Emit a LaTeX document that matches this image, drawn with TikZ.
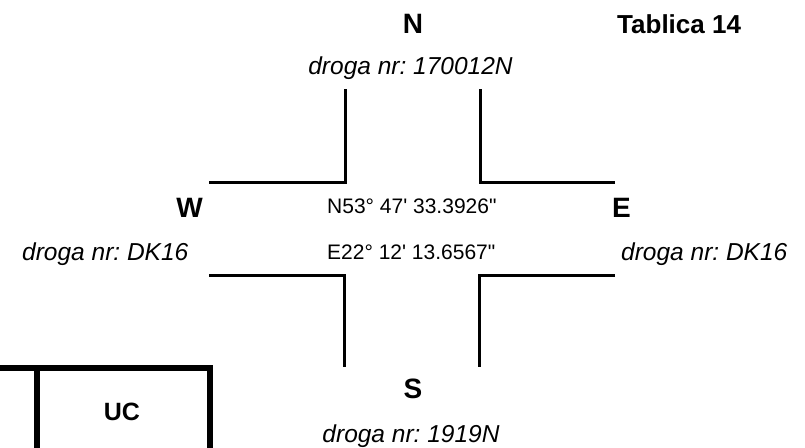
\documentclass[tikz,border=0pt]{standalone}
\usepackage{fontspec}
\setmainfont{Liberation Sans}
\frenchspacing
\newcommand{\sq}{\XeTeXglyph\XeTeXcharglyph"0027\relax}
\newcommand{\dq}{\XeTeXglyph\XeTeXcharglyph"0022\relax}
\begin{document}
\begin{tikzpicture}[x=1pt,y=-1pt,
  road/.style={line width=3pt,line cap=butt,line join=miter},
  frame/.style={line width=6pt,line join=miter},
  dir/.style={inner sep=0pt,font=\fontsize{28}{32}\selectfont\bfseries},
  roadlbl/.style={inner sep=0pt,font=\fontsize{24.5}{28}\selectfont\itshape\frenchspacing},
  coord/.style={inner sep=0pt,font=\fontsize{21}{25}\selectfont},
  title/.style={inner sep=0pt,font=\fontsize{26}{30}\selectfont\bfseries}]
\useasboundingbox (0,0) rectangle (805,447);
% roads
\draw[road] (345,89) -- (345,182) -- (209,182);
\draw[road] (480,89) -- (480,182) -- (615,182);
\draw[road] (209,275) -- (344,275) -- (344,367);
\draw[road] (615,275) -- (479,275) -- (479,367);
% box
\draw[frame] (-5,368) -- (210,368) -- (210,455);
\draw[frame] (37,368) -- (37,455);
% labels
\node[dir,anchor=base] (n) at (413,33) {N};
\node[title,anchor=base west] (tab) at (617,33) {Tablica 14};
\node[roadlbl,anchor=base] (nroad) at (410.5,74) {droga nr: 170012N};
\node[dir,anchor=base east] (w) at (203,217) {W};
\node[roadlbl,anchor=base west] (wroad) at (22,260) {droga nr: DK16};
\node[coord,anchor=base west] (lat) at (327,213) {N53° 47\sq{} 33.3926\dq};
\node[coord,anchor=base west] (lon) at (327,259) {E22° 12\sq{} 13.6567\dq};
\node[dir,anchor=base west] (e) at (612,217) {E};
\node[roadlbl,anchor=base west] (eroad) at (621,260) {droga nr: DK16};
\node[dir,anchor=base] (s) at (413,398) {S};
\node[roadlbl,anchor=base] (sroad) at (411,442) {droga nr: 1919N};
\node[dir,anchor=base,font=\fontsize{25}{30}\selectfont\bfseries] (uc) at (122,420) {UC};
\end{tikzpicture}
\end{document}
